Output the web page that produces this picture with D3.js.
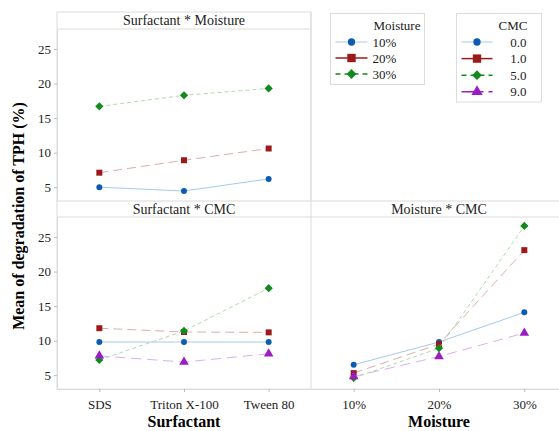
<!DOCTYPE html>
<html>
<head>
<meta charset="utf-8">
<script src="https://cdn.jsdelivr.net/npm/d3@7"></script>
<style>
  body { margin: 0; background: #fff; }
  svg { display: block; }
  svg text { font-family: "Liberation Serif", "Tinos", "Times New Roman", Times, "DejaVu Serif", serif !important; }
</style>
</head>
<body>
<div id="chart"></div>
<script>
// factor levels
const surfactants = ["SDS", "Triton X-100", "Tween 80"];
const moistures = ["10%", "20%", "30%"];
const cmcs = ["0.0", "1.0", "5.0", "9.0"];
const y_ticks = [5, 10, 15, 20, 25];

// Surfactant * Moisture (one array per moisture level, over surfactants)
const sm_10 = [5.0, 4.45, 6.2];
const sm_20 = [7.1, 8.9, 10.6];
const sm_30 = [16.7, 18.3, 19.3];

// Surfactant * CMC (one array per CMC level, over surfactants)
const sc_00 = [9.8, 9.8, 9.8];
const sc_10 = [11.8, 11.25, 11.2];
const sc_50 = [7.2, 11.4, 17.6];
const sc_90 = [7.8, 6.9, 8.1];

// Moisture * CMC (one array per CMC level, over moisture)
const mc_00 = [6.5, 9.8, 14.1];
const mc_10 = [5.3, 9.5, 23.1];
const mc_50 = [4.6, 8.9, 26.6];
const mc_90 = [4.8, 7.7, 11.1];

// a diamond drawn as a square turned by 45 degrees
const symbolRhomb = {
    draw: function (context, size) {
        const r = Math.sqrt(size / 2);
        context.moveTo(0, -r);
        context.lineTo(r, 0);
        context.lineTo(0, r);
        context.lineTo(-r, 0);
        context.closePath();
    }
};

// drawing styles per level (index 0..3)
const styles = [
    {line: "#a9c9ea", mark: "#0b5cb0", dash: null, shape: d3.symbolCircle, size: 28, legendSize: 42, legendLine: "#a9c9ea", legendDash: null, legendWidth: 1},
    {line: "#e2abab", mark: "#9a1a1a", dash: "9,5", shape: d3.symbolSquare, size: 36, legendSize: 70, legendLine: "#9a1a1a", legendDash: null, legendWidth: 1.5},
    {line: "#acdcac", mark: "#138a1f", dash: "4,3", shape: symbolRhomb, size: 34, legendSize: 48, legendLine: "#138a1f", legendDash: "5,4", legendWidth: 1.5},
    {line: "#dcaeee", mark: "#9c1cc4", dash: "10,6", shape: d3.symbolTriangle, size: 40, legendSize: 55, legendLine: "#9c1cc4", legendDash: "22,5", legendWidth: 1.5}
];

const width = 559, height = 431;
const border = "#dcdcdc";

const svg = d3.select("#chart").append("svg")
    .attr("width", width)
    .attr("height", height);

const left = 57, mid = 311, right = 567;
const top_head = 12, top_plot = 29, top_bottom = 201;
const bot_head = 201, bot_plot = 217, bot_bottom = 389;

const y_top = d3.scaleLinear().domain([3, 27.9]).range([top_bottom, top_plot]);
const y_bot = d3.scaleLinear().domain([3, 27.9]).range([bot_bottom, bot_plot]);
const x_surf = d3.scalePoint().domain(surfactants).range([left, mid]).padding(0.5);
const x_moist = d3.scalePoint().domain(moistures).range([mid, right]).padding(0.5);

// panel frames
svg.append("rect").attr("x", left).attr("y", top_head).attr("width", mid - left).attr("height", top_bottom - top_head)
    .attr("fill", "none").attr("stroke", border);
svg.append("line").attr("x1", left).attr("x2", mid).attr("y1", top_plot).attr("y2", top_plot).attr("stroke", border);
svg.append("rect").attr("x", left).attr("y", bot_head).attr("width", right - left).attr("height", bot_bottom - bot_head)
    .attr("fill", "none").attr("stroke", border);
svg.append("rect").attr("x", left).attr("y", bot_head - 1).attr("width", right - left).attr("height", 2)
    .attr("fill", "#ececec");
svg.append("line").attr("x1", left).attr("x2", right).attr("y1", bot_plot).attr("y2", bot_plot).attr("stroke", border);
svg.append("line").attr("x1", mid).attr("x2", mid).attr("y1", top_head).attr("y2", bot_bottom).attr("stroke", border);

// strip titles
function strip_title(text, x, y) {
    svg.append("text").attr("x", x).attr("y", y).attr("text-anchor", "middle")
        .attr("font-size", "14px").attr("fill", "#222").text(text);
}
strip_title("Surfactant * Moisture", (left + mid) / 2, 25);
strip_title("Surfactant * CMC", (left + mid) / 2, 214);
strip_title("Moisture * CMC", (mid + right) / 2, 214);

// axes
function style_axis(g) {
    g.attr("font-family", null);
    g.selectAll(".domain").attr("stroke", border);
    g.selectAll(".tick line").attr("stroke", "#bbb");
    g.selectAll(".tick text").attr("font-size", "13px").attr("fill", "#222");
}
svg.append("g").attr("transform", "translate(" + left + ",0)")
    .call(d3.axisLeft(y_top).tickValues(y_ticks).tickSize(3).tickSizeOuter(0)).call(style_axis);
svg.append("g").attr("transform", "translate(" + left + ",0)")
    .call(d3.axisLeft(y_bot).tickValues(y_ticks).tickSize(3).tickSizeOuter(0)).call(style_axis);
svg.append("g").attr("transform", "translate(0," + bot_bottom + ")")
    .call(d3.axisBottom(x_surf).tickSize(3).tickSizeOuter(0).tickPadding(8)).call(style_axis);
svg.append("g").attr("transform", "translate(0," + bot_bottom + ")")
    .call(d3.axisBottom(x_moist).tickSize(3).tickSizeOuter(0).tickPadding(8)).call(style_axis);

// axis titles
svg.append("text").attr("x", (left + mid) / 2).attr("y", 427).attr("text-anchor", "middle")
    .attr("font-size", "16px").attr("font-weight", "bold").text("Surfactant");
svg.append("text").attr("x", (mid + right) / 2).attr("y", 427).attr("text-anchor", "middle")
    .attr("font-size", "16px").attr("font-weight", "bold").text("Moisture");
svg.append("text").attr("transform", "translate(24,216) rotate(-90)").attr("text-anchor", "middle")
    .attr("font-size", "16px").attr("font-weight", "bold").text("Mean of degradation of TPH (%)");

// series
function draw_series(values, x_scale, levels, y_scale, st) {
    const pts = values.map(function (v, i) { return [x_scale(levels[i]), y_scale(v)]; });
    svg.append("path")
        .attr("d", d3.line()(pts))
        .attr("fill", "none")
        .attr("stroke", st.line)
        .attr("stroke-width", 1)
        .attr("stroke-dasharray", st.dash);
    svg.selectAll(null).data(pts).enter().append("path")
        .attr("transform", function (d) { return "translate(" + d[0] + "," + d[1] + ")"; })
        .attr("d", d3.symbol().type(st.shape).size(st.size))
        .attr("fill", st.mark);
}

[sm_10, sm_20, sm_30].forEach(function (vals, i) {
    draw_series(vals, x_surf, surfactants, y_top, styles[i]);
});
[sc_00, sc_10, sc_50, sc_90].forEach(function (vals, i) {
    draw_series(vals, x_surf, surfactants, y_bot, styles[i]);
});
[mc_00, mc_10, mc_50, mc_90].forEach(function (vals, i) {
    draw_series(vals, x_moist, moistures, y_bot, styles[i]);
});

// legends
function legend(x, y, w, h, title, title_x, labels, label_x, anchor, line_x0, line_x1, row_gap) {
    const g = svg.append("g").attr("transform", "translate(" + x + "," + y + ")");
    g.append("rect").attr("width", w).attr("height", h).attr("fill", "#fff").attr("stroke", border);
    g.append("text").attr("x", title_x).attr("y", 16).attr("font-size", "13px").attr("fill", "#222").text(title);
    labels.forEach(function (lab, i) {
        const st = styles[i];
        const yy = 28.5 + i * row_gap;
        g.append("line").attr("x1", line_x0).attr("x2", line_x1).attr("y1", yy).attr("y2", yy)
            .attr("stroke", st.legendLine).attr("stroke-width", st.legendWidth)
            .attr("stroke-dasharray", st.legendDash);
        g.append("path").attr("transform", "translate(" + ((line_x0 + line_x1) / 2) + "," + yy + ")")
            .attr("d", d3.symbol().type(st.shape).size(st.legendSize)).attr("fill", st.mark);
        g.append("text").attr("x", label_x).attr("y", yy + 4.5).attr("text-anchor", anchor)
            .attr("font-size", "13px").attr("fill", "#222").text(lab);
    });
}
legend(330.5, 13.5, 94, 71, "Moisture", 43, moistures, 42, "start", 5, 37, 16);
legend(456.5, 13.5, 85, 88.5, "CMC", 42, cmcs, 70, "end", 5, 36, 16.6);
</script>
</body>
</html>
